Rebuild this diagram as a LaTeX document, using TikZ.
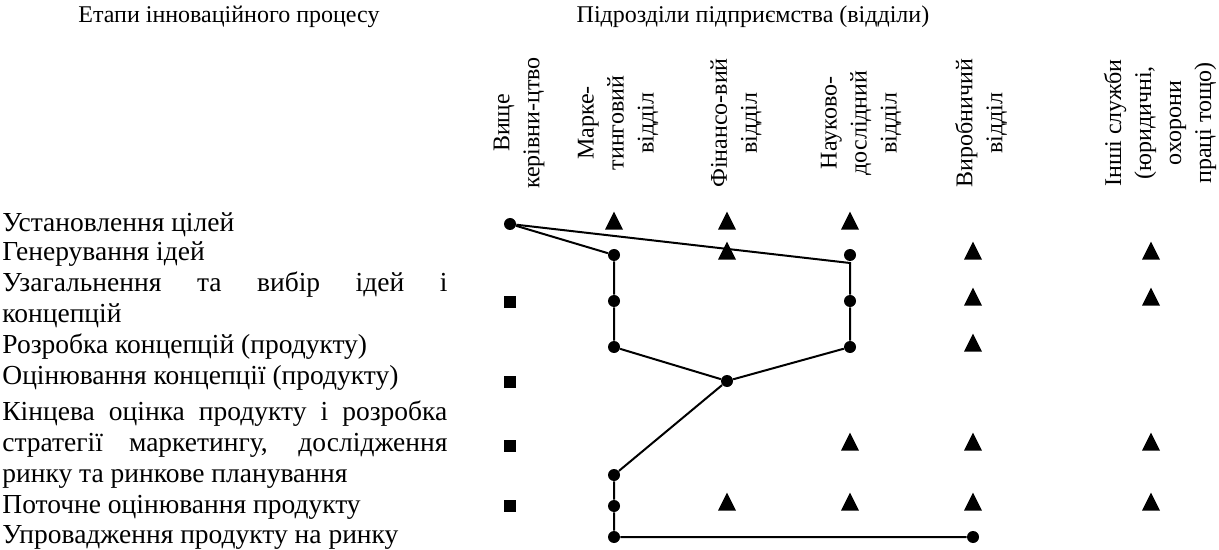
\documentclass[tikz,border=0pt]{standalone}
\usepackage{fontspec}
\setmainfont{Liberation Serif}
\usetikzlibrary{shapes.geometric}

\tikzset{
  lbl/.style={font=\fontsize{12}{15}\selectfont, inner sep=0pt},
  stage/.style={lbl, font=\fontsize{13.75}{15.5}\selectfont, anchor=base west,
    text width=222.5pt, align=justify},
  dept/.style={lbl, rotate=90, align=center},
  pt/.style={circle, fill=black, inner sep=0pt, minimum size=6pt},
  sq/.style={rectangle, fill=black, inner sep=0pt, minimum size=6.2pt},
  tri/.style={isosceles triangle, isosceles triangle stretches, shape border rotate=90,
    fill=black, inner sep=0pt, minimum width=9pt, minimum height=9pt},
  link/.style={line width=1pt}
}

\begin{document}
\begin{tikzpicture}[x=0.5pt, y=-0.5pt]
 \useasboundingbox (0,0) rectangle (1219,550);

 %%%%%%%%%% Titles %%%%%%%%%%
 \node[lbl] (stitle) at (229,17) {Етапи інноваційного процесу};
 \node[lbl] (dtitle) at (753,17) {Підрозділи підприємства (відділи)};

 %%%%%%%%%% Departments %%%%%%%%%%
 \node[dept] (top)  at (519,123) {Вище\\керівни-цтво};
 \node[dept] (mkt)  at (618,123) {Марке-\\тинговий\\відділ};
 \node[dept] (fin)  at (736,123) {Фінансо-вий\\відділ};
 \node[dept] (rnd)  at (861,123) {Науково-\\дослідний\\відділ};
 \node[dept] (prod) at (981,123) {Виробничий\\відділ};
 \node[dept] (misc) at (1160,123) {Інші служби\\(юридичні,\\охорони\\праці тощо)};

 %%%%%%%%%% Stages %%%%%%%%%%
 \node[stage] (st1) at (2,232) {Установлення цілей};
 \node[stage] (st2) at (2,261) {Генерування ідей};
 \node[stage] (st3) at (2,292) {Узагальнення та вибір ідей і\linebreak концепцій};
 \node[stage] (st4) at (2,353) {Розробка концепцій (продукту)};
 \node[stage] (st5) at (2,384) {Оцінювання концепції (продукту)};
 \node[stage] (st6) at (2,420) {Кінцева оцінка продукту і розробка\linebreak стратегії маркетингу, дослідження\linebreak ринку та ринкове планування};
 \node[stage] (st7) at (2,513) {Поточне оцінювання продукту};
 \node[stage] (st8) at (2,543) {Упровадження продукту на ринку};

 %%%%%%%%%% Row 1 %%%%%%%%%%
 \node[pt]  (p11) at (510,224) {};
 \node[tri] (t12) at (614,224) {};
 \node[tri] (t13) at (727,224) {};
 \node[tri] (t14) at (850,224) {};
 % Row 2
 \node[pt]  (p22) at (614,255) {};
 \node[tri] (t23) at (727,254) {};
 \node[pt]  (p24) at (850,255) {};
 \node[tri] (t25) at (973,254) {};
 \node[tri] (t26) at (1151,254) {};
 % Row 3
 \node[sq]  (s31) at (510,302) {};
 \node[pt]  (p32) at (614,301) {};
 \node[pt]  (p34) at (850,301) {};
 \node[tri] (t35) at (973,300) {};
 \node[tri] (t36) at (1151,300) {};
 % Row 4
 \node[pt]  (p42) at (614,347) {};
 \node[pt]  (p44) at (850,347) {};
 \node[tri] (t45) at (973,346) {};
 % Row 5
 \node[sq]  (s51) at (510,382) {};
 \node[pt]  (p53) at (727,381) {};
 % Row 6
 \node[sq]  (s61) at (510,446) {};
 \node[tri] (t64) at (850,445) {};
 \node[tri] (t65) at (973,445) {};
 \node[tri] (t66) at (1151,445) {};
 \node[pt]  (p62) at (614,475) {};
 % Row 7
 \node[sq]  (s71) at (510,506) {};
 \node[pt]  (p72) at (614,506) {};
 \node[tri] (t73) at (727,505) {};
 \node[tri] (t74) at (850,505) {};
 \node[tri] (t75) at (973,505) {};
 \node[tri] (t76) at (1151,505) {};
 % Row 8
 \node[pt]  (p82) at (614,537) {};
 \node[pt]  (p85) at (973,537) {};

 %%%%%%%%%%% Links %%%%%%%%%%%
 \coordinate (rdEnd) at (850,263);
 \draw[link] (p11) -- (rdEnd) -- (p34) -- (p44) -- (p53);
 \draw[link] (p11) -- (p22) -- (p32) -- (p42) -- (p53);
 \draw[link] (p53) -- (p62) -- (p72) -- (p82) -- (p85);

\end{tikzpicture}
\end{document}
